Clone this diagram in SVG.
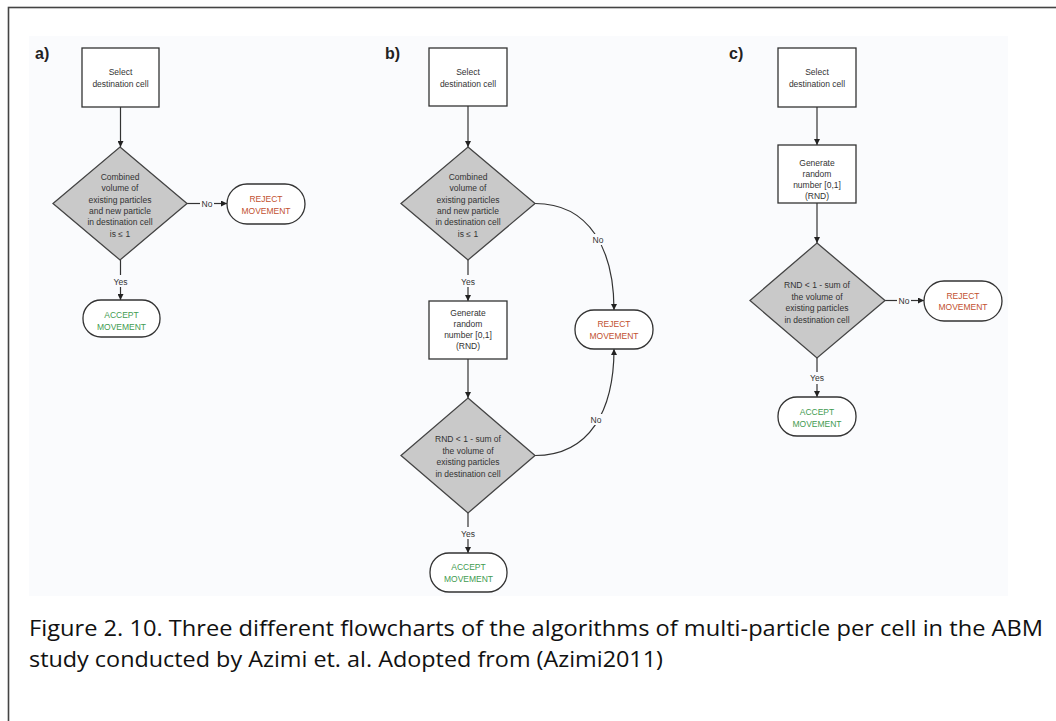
<svg xmlns="http://www.w3.org/2000/svg" width="1056" height="721" viewBox="0 0 1056 721">
<style>
.t{font-family:"Liberation Sans",Arial,sans-serif;font-size:8.5px;fill:#333;text-anchor:middle}
.rej{fill:#c2502f}
.acc{fill:#3f9b50}
.box{fill:#fff;stroke:#333;stroke-width:1.3}
.dia{fill:#c9c9c9;stroke:#444;stroke-width:1.3}
.pill{fill:#fff;stroke:#333;stroke-width:1.3}
.ln{fill:none;stroke:#333;stroke-width:1.2}
.lbl{font-family:"Liberation Sans",Arial,sans-serif;font-size:16px;font-weight:bold;fill:#222}
.cap{font-family:"Open Sans","Noto Sans",sans-serif;font-size:22px;fill:#111}
</style>
<defs>
<marker id="ah" markerWidth="6" markerHeight="6" refX="6" refY="3" orient="auto" markerUnits="userSpaceOnUse">
<path d="M0,0 L6,3 L0,6 z" fill="#222"/>
</marker>
</defs>
<rect x="0" y="0" width="1056" height="721" fill="#fff"/>
<rect x="8.5" y="7.5" width="1060" height="730" fill="none" stroke="#444" stroke-width="1.6"/>
<rect x="29" y="36" width="979" height="560" fill="#fafbfd"/>

<text class="lbl" x="35" y="59">a)</text>
<text class="lbl" x="385" y="59">b)</text>
<text class="lbl" x="729" y="59">c)</text>

<g id="connectors">
<!-- a -->
<line class="ln" x1="120.5" y1="107" x2="120.5" y2="147" marker-end="url(#ah)"/>
<line class="ln" x1="187" y1="203.5" x2="200" y2="203.5"/>
<line class="ln" x1="214" y1="203.5" x2="227" y2="203.5" marker-end="url(#ah)"/>
<text class="t" x="207" y="206.5">No</text>
<line class="ln" x1="120.5" y1="260" x2="120.5" y2="275"/>
<line class="ln" x1="120.5" y1="287" x2="120.5" y2="300" marker-end="url(#ah)"/>
<text class="t" x="120.5" y="285">Yes</text>
<!-- b -->
<line class="ln" x1="468" y1="106" x2="468" y2="147" marker-end="url(#ah)"/>
<line class="ln" x1="468" y1="260" x2="468" y2="275"/>
<line class="ln" x1="468" y1="287" x2="468" y2="301" marker-end="url(#ah)"/>
<text class="t" x="468" y="285">Yes</text>
<line class="ln" x1="468" y1="359" x2="468" y2="398" marker-end="url(#ah)"/>
<line class="ln" x1="468" y1="513" x2="468" y2="527"/>
<line class="ln" x1="468" y1="539" x2="468" y2="553" marker-end="url(#ah)"/>
<text class="t" x="468" y="537">Yes</text>
<path class="ln" d="M535,203.5 C590,203.5 614,250 614,310" marker-end="url(#ah)"/>
<rect x="590" y="234" width="16" height="11" fill="#fafbfd"/>
<text class="t" x="598" y="243">No</text>
<path class="ln" d="M535,455.5 C590,455.5 614,410 614,349" marker-end="url(#ah)"/>
<rect x="588" y="414" width="16" height="11" fill="#fafbfd"/>
<text class="t" x="596" y="423">No</text>
<!-- c -->
<line class="ln" x1="817" y1="107" x2="817" y2="145" marker-end="url(#ah)"/>
<line class="ln" x1="817" y1="203" x2="817" y2="243" marker-end="url(#ah)"/>
<line class="ln" x1="885" y1="300.5" x2="897" y2="300.5"/>
<line class="ln" x1="911" y1="300.5" x2="924" y2="300.5" marker-end="url(#ah)"/>
<text class="t" x="904" y="303.5">No</text>
<line class="ln" x1="817" y1="358" x2="817" y2="372"/>
<line class="ln" x1="817" y1="384" x2="817" y2="397" marker-end="url(#ah)"/>
<text class="t" x="817" y="381">Yes</text>
</g>

<!-- Panel a -->
<g id="a-select">
<rect class="box" x="82" y="48" width="77" height="59"/>
<text class="t" x="120.5" y="75">Select</text>
<text class="t" x="120.5" y="87">destination cell</text>
</g>
<g id="a-decision">
<polygon class="dia" points="120,147 187,203.5 120,260 53,203.5"/>
<text class="t" x="120" y="180">Combined</text>
<text class="t" x="120" y="191.3">volume of</text>
<text class="t" x="120" y="202.6">existing particles</text>
<text class="t" x="120" y="213.9">and new particle</text>
<text class="t" x="120" y="225.2">in destination cell</text>
<text class="t" x="120" y="236.5">is ≤ 1</text>
</g>
<g id="a-reject">
<rect class="pill" x="227" y="184" width="78" height="40" rx="20"/>
<text class="t rej" x="266" y="202">REJECT</text>
<text class="t rej" x="266" y="213.5">MOVEMENT</text>
</g>
<g id="a-accept">
<rect class="pill" x="83" y="300" width="77" height="37" rx="18"/>
<text class="t acc" x="121.5" y="318">ACCEPT</text>
<text class="t acc" x="121.5" y="329.5">MOVEMENT</text>
</g>

<!-- Panel b -->
<g id="b-select">
<rect class="box" x="429" y="48" width="78" height="58"/>
<text class="t" x="468" y="75">Select</text>
<text class="t" x="468" y="87">destination cell</text>
</g>
<g id="b-decision1">
<polygon class="dia" points="468,147 535,203.5 468,260 401,203.5"/>
<text class="t" x="468" y="180">Combined</text>
<text class="t" x="468" y="191.3">volume of</text>
<text class="t" x="468" y="202.6">existing particles</text>
<text class="t" x="468" y="213.9">and new particle</text>
<text class="t" x="468" y="225.2">in destination cell</text>
<text class="t" x="468" y="236.5">is ≤ 1</text>
</g>
<g id="b-generate">
<rect class="box" x="429" y="301" width="78" height="58"/>
<text class="t" x="468" y="316">Generate</text>
<text class="t" x="468" y="327">random</text>
<text class="t" x="468" y="338">number [0,1]</text>
<text class="t" x="468" y="349">(RND)</text>
</g>
<g id="b-decision2">
<polygon class="dia" points="468,398 535,455.5 468,513 401,455.5"/>
<text class="t" x="468" y="442">RND &lt; 1 - sum of</text>
<text class="t" x="468" y="453.5">the volume of</text>
<text class="t" x="468" y="465">existing particles</text>
<text class="t" x="468" y="476.5">in destination cell</text>
</g>
<g id="b-reject">
<rect class="pill" x="575" y="310" width="78" height="39" rx="19"/>
<text class="t rej" x="614" y="327">REJECT</text>
<text class="t rej" x="614" y="338.5">MOVEMENT</text>
</g>
<g id="b-accept">
<rect class="pill" x="430" y="553" width="77" height="39" rx="19"/>
<text class="t acc" x="468.5" y="570">ACCEPT</text>
<text class="t acc" x="468.5" y="581.5">MOVEMENT</text>
</g>

<!-- Panel c -->
<g id="c-select">
<rect class="box" x="778" y="48" width="78" height="59"/>
<text class="t" x="817" y="75">Select</text>
<text class="t" x="817" y="87">destination cell</text>
</g>
<g id="c-generate">
<rect class="box" x="778" y="145" width="78" height="58"/>
<text class="t" x="817" y="166">Generate</text>
<text class="t" x="817" y="177">random</text>
<text class="t" x="817" y="188">number [0,1]</text>
<text class="t" x="817" y="199">(RND)</text>
</g>
<g id="c-decision">
<polygon class="dia" points="817,243 885,300.5 817,358 750,300.5"/>
<text class="t" x="817" y="288">RND &lt; 1 - sum of</text>
<text class="t" x="817" y="299.5">the volume of</text>
<text class="t" x="817" y="311">existing particles</text>
<text class="t" x="817" y="322.5">in destination cell</text>
</g>
<g id="c-reject">
<rect class="pill" x="924" y="281" width="78" height="40" rx="20"/>
<text class="t rej" x="963" y="298.5">REJECT</text>
<text class="t rej" x="963" y="310">MOVEMENT</text>
</g>
<g id="c-accept">
<rect class="pill" x="778" y="397" width="78" height="39" rx="19"/>
<text class="t acc" x="817" y="415">ACCEPT</text>
<text class="t acc" x="817" y="426.5">MOVEMENT</text>
</g>

<g id="caption">
<text class="cap" x="29" y="636" textLength="1014" lengthAdjust="spacingAndGlyphs">Figure 2. 10. Three different flowcharts of the algorithms of multi-particle per cell in the ABM</text>
<text class="cap" x="29" y="667" textLength="634" lengthAdjust="spacingAndGlyphs">study conducted by Azimi et. al. Adopted from (Azimi2011)</text>
</g>
</svg>
